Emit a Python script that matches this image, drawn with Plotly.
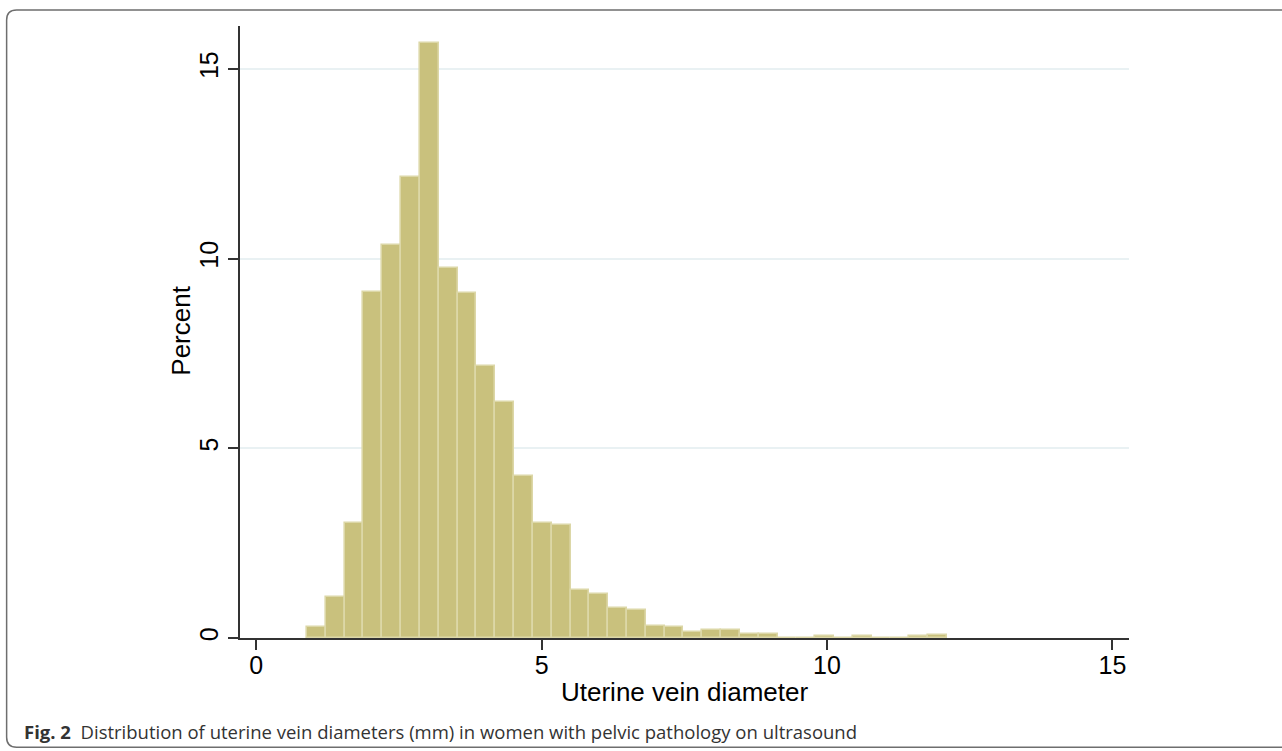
import plotly.graph_objects as go

# Histogram data (percent per bin)
bin_start = 0.89
bin_width = 0.3297
percent = [0.28, 1.09, 3.04, 9.12, 10.36, 12.16, 15.67, 9.74, 9.10, 7.16,
           6.21, 4.26, 3.03, 2.98, 1.27, 1.17, 0.80, 0.75, 0.32, 0.30,
           0.17, 0.20, 0.20, 0.10, 0.11, 0.0, 0.0, 0.04, 0.0, 0.04,
           0.0, 0.0, 0.04, 0.08]
x_ticks = [0, 5, 10, 15]
y_ticks = [0, 5, 10, 15]

centers = [bin_start + (i + 0.5) * bin_width for i in range(len(percent))]

W, H = 1282, 751
# plot area in window pixels
L, R, T, B = 239.5, 1129.0, 26.0, 637.7

fig = go.Figure()
fig.add_trace(go.Bar(
    x=centers, y=percent, width=bin_width,
    marker=dict(color="#C9C17D", line=dict(color="#DCD7A7", width=1.6)),
    hoverinfo="x+y",
))

FONT = "Liberation Sans, Arial, Helvetica, sans-serif"

fig.update_layout(
    width=W, height=H,
    margin=dict(l=L, r=W - R, t=T, b=H - B, pad=0),
    paper_bgcolor="white", plot_bgcolor="white",
    showlegend=False, bargap=0,
    font=dict(family=FONT, size=25, color="black"),
    xaxis=dict(
        range=[-0.284, 15.29], tickvals=x_ticks, ticks="outside", ticklen=10,
        tickwidth=1.5, tickcolor="#333", showline=True, linecolor="#333",
        linewidth=1.6, showgrid=False, zeroline=False,
        tickfont=dict(size=25, family=FONT), ticklabelstandoff=-6,
    ),
    yaxis=dict(
        range=[0, 16.13], tickvals=y_ticks, ticks="outside", ticklen=10,
        tickwidth=1.5, tickcolor="#333", showline=True, linecolor="#333",
        linewidth=1.6, showgrid=True, gridcolor="#E9F1F3", gridwidth=1.5,
        zeroline=False, tickangle=-90,
        tickfont=dict(size=25, family=FONT), ticklabelstandoff=0,
    ),
)

def px_x(p):
    return (p - L) / (R - L)

def px_y(p):
    return (B - p) / (B - T)

# axis titles and caption (positions in window pixels)
fig.add_annotation(text="Percent", xref="paper", yref="paper",
                   x=px_x(181), y=px_y(331), textangle=-90, showarrow=False,
                   xanchor="center", yanchor="middle",
                   font=dict(size=26, family=FONT, color="black"))
fig.add_annotation(text="Uterine vein diameter", xref="paper", yref="paper",
                   x=px_x(684), y=px_y(692), showarrow=False,
                   xanchor="center", yanchor="middle",
                   font=dict(size=26, family=FONT, color="black"))
fig.add_annotation(text="<b>Fig. 2</b>  Distribution of uterine vein diameters (mm) in women with pelvic pathology on ultrasound",
                   xref="paper", yref="paper", x=px_x(21), y=px_y(731),
                   showarrow=False, xanchor="left", yanchor="middle",
                   font=dict(size=18.5, family="Open Sans, Noto Sans, sans-serif", color="#333"))

# outer rounded frame (top and left visible, continues past the right edge)
x0, y0, x1, y1, r = 6, 10, 1300, 747, 10
path = (f"M {px_x(x1)},{px_y(y0)} L {px_x(x0 + r)},{px_y(y0)} "
        f"Q {px_x(x0)},{px_y(y0)} {px_x(x0)},{px_y(y0 + r)} "
        f"L {px_x(x0)},{px_y(y1 - r)} "
        f"Q {px_x(x0)},{px_y(y1)} {px_x(x0 + r)},{px_y(y1)} "
        f"L {px_x(x1)},{px_y(y1)}")
fig.add_shape(type="path", path=path, xref="paper", yref="paper",
              line=dict(color="#6E6E6E", width=1.5), layer="above")

fig.write_html("out.html",
               config={"displayModeBar": False},
               post_script="document.body.style.margin='0';document.body.style.overflow='hidden';")
